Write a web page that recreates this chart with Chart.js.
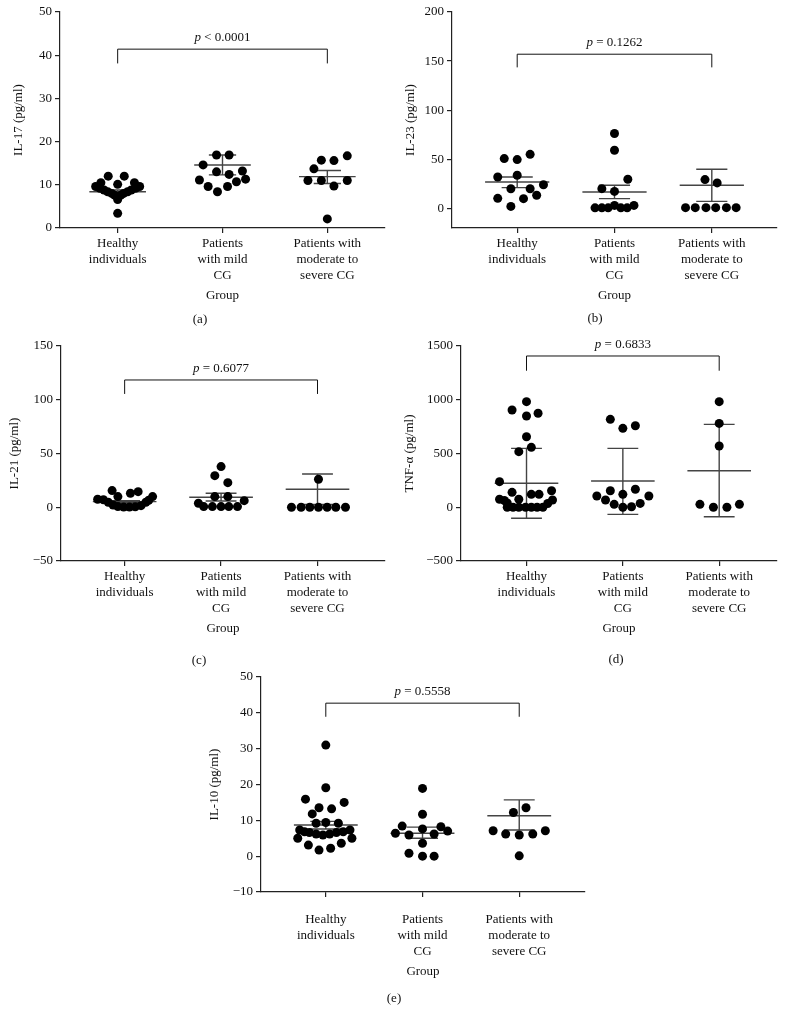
<!DOCTYPE html>
<html>
<head>
<meta charset="utf-8">
<script src="https://cdn.jsdelivr.net/npm/chart.js@4.4.0/dist/chart.umd.min.js"></script>
<style>
  body { margin: 0; background: #fff; }
  #wrap { position: relative; width: 793px; height: 1023px; }
  .panel { position: absolute; }
  .tag { position: absolute; font: 13px "Liberation Serif", "Times New Roman", serif; color: #111; transform: translate(-50%, -50%); }
</style>
</head>
<body>
<div id="wrap">
  <div class="panel" style="left:0;top:0"><canvas id="ca" width="400" height="330"></canvas></div>
  <div class="panel" style="left:400px;top:0"><canvas id="cb" width="393" height="330"></canvas></div>
  <div class="panel" style="left:0;top:330px"><canvas id="cc" width="400" height="330"></canvas></div>
  <div class="panel" style="left:400px;top:330px"><canvas id="cd" width="393" height="330"></canvas></div>
  <div class="panel" style="left:200px;top:660px"><canvas id="ce" width="400" height="363"></canvas></div>
  <div class="tag" style="left:200px;top:319px">(a)</div>
  <div class="tag" style="left:595px;top:318px">(b)</div>
  <div class="tag" style="left:199px;top:660px">(c)</div>
  <div class="tag" style="left:616px;top:659px">(d)</div>
  <div class="tag" style="left:394px;top:998px">(e)</div>
</div>
<script>
// groups on the x axis
var groupLabels = [["Healthy", "individuals"], ["Patients", "with mild", "CG"], ["Patients with", "moderate to", "severe CG"]];

// (a) IL-17
var il17Values = [
  [12.0, 12.0, 10.5, 10.5, 10.1, 9.6, 9.6, 9.2, 9.2, 8.8, 8.8, 8.4, 8.4, 8.0, 8.0, 7.6, 7.6, 7.2, 6.6, 3.4],
  [16.9, 16.9, 14.6, 13.0, 12.4, 13.2, 11.1, 11.3, 10.7, 9.6, 9.6, 8.4],
  [16.7, 15.7, 15.6, 13.7, 11.0, 11.0, 11.0, 9.7, 2.1]
];
var il17Jitter = [
  [-0.09, 0.063, -0.16, 0.16, 0, -0.21, 0.21, -0.17, 0.17, -0.13, 0.13, -0.095, 0.095, -0.057, 0.057, -0.03, 0.03, 0, 0, 0],
  [-0.057, 0.063, -0.185, -0.057, 0.063, 0.19, -0.22, 0.22, 0.133, -0.137, 0.048, -0.048],
  [0.19, -0.057, 0.063, -0.128, -0.185, -0.057, 0.19, 0.063, 0]
];
var il17Mean = [8.4, 14.6, 11.9];
var il17Low = [8.0, 12.3, 10.3];
var il17High = [8.8, 16.9, 13.3];
var il17Ticks = [0, 10, 20, 30, 40, 50];
var il17Bracket = [41.4, 38.1];

// (b) IL-23
var il23Values = [
  [50.7, 49.7, 55, 32, 33.7, 20, 20, 24, 13.3, 10.2, 9.9, 2],
  [76.2, 59.2, 29.6, 20.1, 17.3, 0.5, 0.5, 0.5, 3, 0.5, 0.5, 3],
  [29.3, 25.9, 0.7, 0.7, 0.7, 0.7, 0.7, 0.7]
];
var il23Jitter = [
  [-0.133, 0, 0.133, -0.2, 0, -0.065, 0.133, 0.27, 0.2, -0.2, 0.065, -0.065],
  [0, 0, 0.137, -0.13, 0, -0.2, -0.13, -0.065, 0, 0.065, 0.13, 0.2],
  [-0.07, 0.055, -0.27, -0.17, -0.06, 0.04, 0.15, 0.25]
];
var il23Mean = [26.9, 16.7, 23.5];
var il23Low = [21.1, 9.9, 7.1];
var il23High = [32, 23.5, 39.8];
var il23Ticks = [0, 50, 100, 150, 200];
var il23Bracket = [157, 143.6];

// (c) IL-21
var il21Values = [
  [15.5, 9.9, 13, 14.5, 7.4, 7, 4.6, 2.1, 0.6, 0.2, 0.2, 0.4, 1.5, 4.6, 6.5, 9.9],
  [37.8, 29.4, 22.9, 9.9, 9.9, 3.7, 6.1, 0.6, 0.6, 0.6, 0.6, 0.6],
  [26, 0, 0, 0, 0, 0, 0, 0]
];
var il21Jitter = [
  [-0.13, -0.07, 0.06, 0.14, -0.28, -0.22, -0.17, -0.12, -0.07, -0.01, 0.05, 0.11, 0.17, 0.22, 0.25, 0.29],
  [0, -0.065, 0.07, -0.065, 0.07, -0.235, 0.24, -0.18, -0.09, 0, 0.08, 0.17],
  [0.01, -0.27, -0.17, -0.08, 0.01, 0.1, 0.19, 0.29]
];
var il21Mean = [5.2, 9.3, 16.7];
var il21Low = [4.2, 5.8, 2.5];
var il21High = [6.2, 13, 31];
var il21Ticks = [-50, 0, 50, 100, 150];
var il21Bracket = [118.4, 105.4];

// (d) TNF-α
var tnfValues = [
  [982, 905, 849, 874, 656, 517, 557, 238, 139, 120, 120, 154, 74, 63, 74, 67, 40, 35, 0, 0, 0, 0, 0, 0, 0],
  [818, 734, 758, 154, 167, 120, 105, 105, 67, 36, 27, 5, 0],
  [982, 780, 570, 27, 0, 0, 27]
];
var tnfJitter = [
  [0, -0.15, 0, 0.12, 0, -0.08, 0.05, -0.28, -0.15, 0.05, 0.13, 0.26, -0.28, -0.23, -0.08, 0.27, -0.2, 0.22, -0.2, -0.14, -0.08, -0.01, 0.05, 0.11, 0.17],
  [-0.13, 0, 0.13, -0.13, 0.13, 0, -0.27, 0.27, -0.18, 0.18, -0.09, 0.09, 0],
  [0, 0, 0, -0.2, -0.06, 0.08, 0.21]
];
var tnfMean = [223, 244, 340];
var tnfLow = [-103, -66, -88];
var tnfHigh = [548, 548, 771];
var tnfTicks = [-500, 0, 500, 1000, 1500];
var tnfBracket = [1407, 1270];

// (e) IL-10
var il10Values = [
  [31, 19.1, 15.9, 15, 13.5, 13.2, 11.8, 9.2, 9.4, 9.2, 7.3, 6.8, 6.6, 6.2, 5.9, 6.2, 6.6, 6.8, 7.3, 5.0, 5.0, 3.1, 3.6, 1.7, 2.2],
  [18.9, 11.7, 7.6, 8.4, 8.2, 7.0, 6.4, 5.9, 6.2, 3.6, 0.8, 0, 0],
  [12.2, 13.5, 7.1, 7.1, 6.2, 6.2, 5.9, 0.1]
];
var il10Jitter = [
  [0, 0, -0.21, 0.19, -0.07, 0.06, -0.14, -0.1, 0, 0.13, -0.27, -0.22, -0.17, -0.1, -0.03, 0.04, 0.11, 0.18, 0.25, -0.29, 0.27, -0.18, 0.16, -0.07, 0.05],
  [0, 0, 0, -0.21, 0.19, 0.26, -0.28, -0.14, 0.12, 0, -0.14, 0, 0.12],
  [-0.06, 0.07, -0.27, 0.27, -0.14, 0.14, 0, 0]
];
var il10Mean = [8.7, 6.4, 11.3];
var il10Low = [7.6, 5.0, 7.3];
var il10High = [9.7, 8.1, 15.7];
var il10Ticks = [-10, 0, 10, 20, 30, 40, 50];
var il10Bracket = [42.7, 38.9];

var fontFam = '"Liberation Serif", "Times New Roman", serif';
var ink = '#111';

function fmt(v) {
  return v < 0 ? '\u2212' + Math.abs(v) : String(v);
}

function statsPlugin(p) {
  return {
    id: 'stats',
    beforeDatasetsDraw: function (chart) {
      var x = chart.scales.x, y = chart.scales.y, ctx = chart.ctx;
      ctx.save();
      ctx.strokeStyle = '#444';
      ctx.lineWidth = 1.4;
      p.mean.forEach(function (m, i) {
        var cx = x.getPixelForValue(i);
        var ym = y.getPixelForValue(m), yl = y.getPixelForValue(p.low[i]), yh = y.getPixelForValue(p.high[i]);
        ctx.beginPath();
        ctx.moveTo(x.getPixelForValue(i - p.meanHalf), ym);
        ctx.lineTo(x.getPixelForValue(i + p.meanHalf), ym);
        ctx.moveTo(cx, yl);
        ctx.lineTo(cx, yh);
        ctx.moveTo(x.getPixelForValue(i - p.capHalf), yl);
        ctx.lineTo(x.getPixelForValue(i + p.capHalf), yl);
        ctx.moveTo(x.getPixelForValue(i - p.capHalf), yh);
        ctx.lineTo(x.getPixelForValue(i + p.capHalf), yh);
        ctx.stroke();
      });
      ctx.restore();
    },
    afterDraw: function (chart) {
      var x = chart.scales.x, y = chart.scales.y, ctx = chart.ctx;
      var x0 = x.getPixelForValue(0), x2 = x.getPixelForValue(2);
      var yt = y.getPixelForValue(p.bracket[0]), yl = y.getPixelForValue(p.bracket[1]);
      ctx.save();
      ctx.strokeStyle = ink;
      ctx.lineWidth = 1;
      ctx.beginPath();
      ctx.moveTo(x0, yl);
      ctx.lineTo(x0, yt);
      ctx.lineTo(x2, yt);
      ctx.lineTo(x2, yl);
      ctx.stroke();
      ctx.fillStyle = ink;
      ctx.textBaseline = 'middle';
      ctx.font = 'italic 13px ' + fontFam;
      var w1 = ctx.measureText('p').width;
      ctx.font = '13px ' + fontFam;
      var rest = ' ' + p.pText;
      var w2 = ctx.measureText(rest).width;
      var sx = (x0 + x2) / 2 - (w1 + w2) / 2;
      var ty = yt - 11.5;
      ctx.font = 'italic 13px ' + fontFam;
      ctx.fillText('p', sx, ty);
      ctx.font = '13px ' + fontFam;
      ctx.fillText(rest, sx + w1, ty);
      ctx.restore();
    }
  };
}

function makeChart(p) {
  var datasets = p.values.map(function (vals, g) {
    return {
      data: vals.map(function (v, i) { return { x: g + p.jitter[g][i], y: v }; }),
      backgroundColor: '#000',
      borderWidth: 0,
      pointRadius: 4.5,
      pointHoverRadius: 4.5
    };
  });
  var font = { family: fontFam, size: 13, lineHeight: 1.23 };
  return new Chart(document.getElementById(p.id), {
    type: 'scatter',
    data: { datasets: datasets },
    options: {
      responsive: false,
      animation: false,
      clip: false,
      layout: { padding: p.padding },
      plugins: { legend: { display: false }, tooltip: { enabled: false } },
      scales: {
        x: {
          type: 'linear',
          min: p.xMin,
          max: p.xMax,
          afterBuildTicks: function (s) { s.ticks = [0, 1, 2].map(function (v) { return { value: v }; }); },
          afterFit: function (s) { s.height = p.xHeight; },
          grid: { drawOnChartArea: false, drawTicks: true, tickLength: 5, color: '#222', lineWidth: 1.2 },
          border: { display: true, color: '#222', width: 1.2 },
          ticks: {
            autoSkip: false, maxRotation: 0, padding: p.xTickPad, color: ink, font: font,
            callback: function (v) { return groupLabels[v]; }
          },
          title: { display: true, text: 'Group', color: ink, font: font, padding: { top: 0, bottom: 4 } }
        },
        y: {
          min: p.yMin !== undefined ? p.yMin : p.ticks[0],
          max: p.ticks[p.ticks.length - 1],
          afterBuildTicks: function (s) { s.ticks = p.ticks.map(function (v) { return { value: v }; }); },
          afterFit: function (s) { s.width = p.yWidth; },
          grid: { drawOnChartArea: false, drawTicks: true, tickLength: 5, color: '#222', lineWidth: 1.2 },
          border: { display: true, color: '#222', width: 1.2 },
          ticks: { padding: 3, color: ink, font: font, callback: function (v) { return fmt(v); } },
          title: { display: true, text: p.title, color: ink, font: font, padding: { top: p.titlePad, bottom: 0 } }
        }
      }
    },
    plugins: [statsPlugin(p)]
  });
}

makeChart({
  id: 'ca', title: 'IL-17 (pg/ml)', pText: '< 0.0001',
  values: il17Values, jitter: il17Jitter, mean: il17Mean, low: il17Low, high: il17High,
  ticks: il17Ticks, bracket: il17Bracket,
  xMin: -0.55, xMax: 2.55, yWidth: 60, xHeight: 80, xTickPad: 3, titlePad: 11,
  padding: { left: 0, right: 15, top: 12, bottom: 22 }, meanHalf: 0.27, capHalf: 0.13
});
makeChart({
  id: 'cb', title: 'IL-23 (pg/ml)', pText: '= 0.1262',
  values: il23Values, jitter: il23Jitter, mean: il23Mean, low: il23Low, high: il23High,
  ticks: il23Ticks, bracket: il23Bracket, yMin: -20,
  xMin: -0.67, xMax: 2.67, yWidth: 52, xHeight: 80, xTickPad: 3, titlePad: 3,
  padding: { left: 0, right: 16, top: 12, bottom: 22 }, meanHalf: 0.33, capHalf: 0.16
});
makeChart({
  id: 'cc', title: 'IL-21 (pg/ml)', pText: '= 0.6077',
  values: il21Values, jitter: il21Jitter, mean: il21Mean, low: il21Low, high: il21High,
  ticks: il21Ticks, bracket: il21Bracket,
  xMin: -0.66, xMax: 2.7, yWidth: 61, xHeight: 80, xTickPad: 3, titlePad: 7,
  padding: { left: 0, right: 15, top: 16, bottom: 19 }, meanHalf: 0.33, capHalf: 0.16
});
makeChart({
  id: 'cd', title: 'TNF-\u03b1 (pg/ml)', pText: '= 0.6833',
  values: tnfValues, jitter: tnfJitter, mean: tnfMean, low: tnfLow, high: tnfHigh,
  ticks: tnfTicks, bracket: tnfBracket,
  xMin: -0.68, xMax: 2.6, yWidth: 61, xHeight: 80, xTickPad: 3, titlePad: 2,
  padding: { left: 0, right: 16, top: 16, bottom: 19 }, meanHalf: 0.33, capHalf: 0.16
});
makeChart({
  id: 'ce', title: 'IL-10 (pg/ml)', pText: '= 0.5558',
  values: il10Values, jitter: il10Jitter, mean: il10Mean, low: il10Low, high: il10High,
  ticks: il10Ticks, bracket: il10Bracket,
  xMin: -0.67, xMax: 2.68, yWidth: 61, xHeight: 92, xTickPad: 15, titlePad: 7,
  padding: { left: 0, right: 15, top: 17, bottom: 39 }, meanHalf: 0.33, capHalf: 0.16
});
</script>
</body>
</html>
